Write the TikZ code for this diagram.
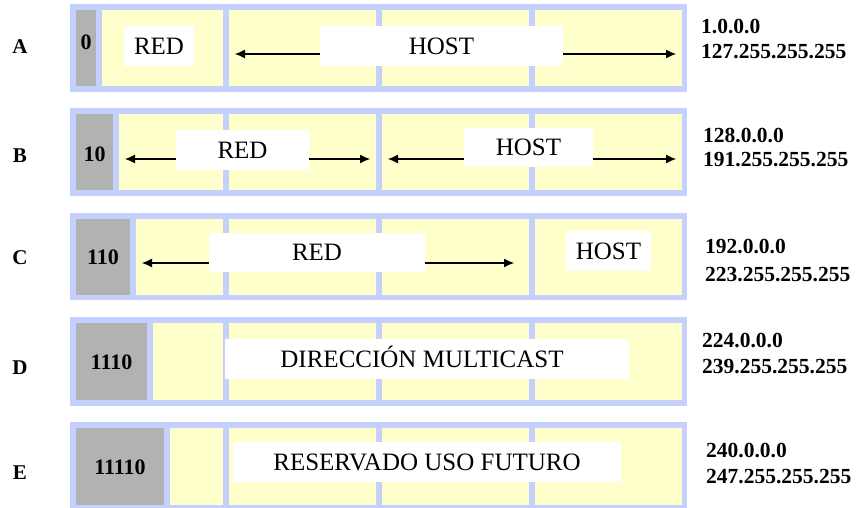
\documentclass[tikz,border=0pt]{standalone}
\usepackage{fontspec}
\setmainfont{Liberation Serif}
\usetikzlibrary{arrows.meta}
\definecolor{framec}{RGB}{198,208,255}
\definecolor{cellc}{RGB}{255,255,204}
\definecolor{bitc}{RGB}{178,178,178}
\begin{document}
\begin{tikzpicture}[x=1pt,y=-1pt,
 frame/.style={fill=framec},
 cell/.style={fill=cellc},
 bit/.style={fill=bitc},
 bittext/.style={font=\fontsize{22}{26}\selectfont\bfseries, inner sep=0pt, text height=15pt, text depth=0pt},
 wbox/.style={fill=white, inner sep=0pt, font=\fontsize{25}{30}\selectfont, text height=16.5pt, text depth=0pt},
 arr/.style={-{Latex[length=10pt,width=9pt]}, line width=1.1pt},
 cls/.style={font=\fontsize{21}{25}\selectfont\bfseries, inner sep=0pt, text height=14.3pt, text depth=0pt},
 ip/.style={font=\fontsize{21.5}{25}\selectfont\bfseries, inner sep=0pt, anchor=base west}]
\useasboundingbox (0,0) rectangle (860,508);
\fill[white] (0,0) rectangle (860,508);
% ---------- Row A ----------
\fill[frame] (70,4) rectangle (687,92);
\fill[bit] (76,10) rectangle (96,86);
\fill[cell] (102,10) rectangle (223,86);
\fill[cell] (229,10) rectangle (376,86);
\fill[cell] (382,10) rectangle (529,86);
\fill[cell] (535,10) rectangle (682,86);
\node[bittext] (bitA) at (86,42) {0};
\node[wbox, minimum width=70pt, minimum height=40pt] (redA) at (159,46) {RED};
\node[wbox, minimum width=243pt, minimum height=40pt] (hostA) at (441.5,46) {HOST};
\coordinate (tA1) at (235,54);
\coordinate (tA2) at (676,54);
\draw[arr] (hostA.west |- tA1) -- (tA1);
\draw[arr] (hostA.east |- tA2) -- (tA2);
\node[cls] (clsA) at (20,46) {A};
\node[ip] (ipA1) at (701,34) {1.0.0.0};
\node[ip] (ipA2) at (701,59) {127.255.255.255};
% ---------- Row B ----------
\fill[frame] (70,108.5) rectangle (687,196.5);
\fill[bit] (76,114.5) rectangle (113,190.5);
\fill[cell] (119,114.5) rectangle (223,190.5);
\fill[cell] (229,114.5) rectangle (376,190.5);
\fill[cell] (382,114.5) rectangle (529,190.5);
\fill[cell] (535,114.5) rectangle (682,190.5);
\node[bittext] (bitB) at (94.5,154.5) {10};
\node[wbox, minimum width=133pt, minimum height=40pt] (redB) at (242.5,150) {RED};
\node[wbox, minimum width=129pt, minimum height=39pt] (hostB) at (528.5,147.5) {HOST};
\coordinate (tB1) at (125,159);
\coordinate (tB2) at (370,159);
\coordinate (tB3) at (388,159);
\coordinate (tB4) at (676,159);
\draw[arr] (redB.west |- tB1) -- (tB1);
\draw[arr] (redB.east |- tB2) -- (tB2);
\draw[arr] (hostB.west |- tB3) -- (tB3);
\draw[arr] (hostB.east |- tB4) -- (tB4);
\node[cls] (clsB) at (20,155) {B};
\node[ip] (ipB1) at (703,143) {128.0.0.0};
\node[ip] (ipB2) at (703,167) {191.255.255.255};
% ---------- Row C ----------
\fill[frame] (70,213) rectangle (687,300);
\fill[bit] (76,219) rectangle (130,295);
\fill[cell] (136,219) rectangle (223,295);
\fill[cell] (229,219) rectangle (376,295);
\fill[cell] (382,219) rectangle (529,295);
\fill[cell] (535,219) rectangle (682,295);
\node[bittext] (bitC) at (103,257) {110};
\node[wbox, minimum width=216pt, minimum height=39pt] (redC) at (317,252.5) {RED};
\node[wbox, minimum width=85pt, minimum height=40pt] (hostC) at (608.5,251) {HOST};
\coordinate (tC1) at (142,263);
\coordinate (tC2) at (514,263);
\draw[arr] (redC.west |- tC1) -- (tC1);
\draw[arr] (redC.east |- tC2) -- (tC2);
\node[cls] (clsC) at (20,257) {C};
\node[ip] (ipC1) at (705,253) {192.0.0.0};
\node[ip] (ipC2) at (705,281) {223.255.255.255};
% ---------- Row D ----------
\fill[frame] (70,317) rectangle (687,406);
\fill[bit] (76,323) rectangle (147,400);
\fill[cell] (153,323) rectangle (223,400);
\fill[cell] (229,323) rectangle (376,400);
\fill[cell] (382,323) rectangle (529,400);
\fill[cell] (535,323) rectangle (682,400);
\node[bittext] (bitD) at (111.5,362) {1110};
\node[wbox, minimum width=404pt, minimum height=40pt] (boxD) at (427,359) {\hspace*{-10pt}DIRECCIÓN MULTICAST};
\node[cls] (clsD) at (20,367) {D};
\node[ip] (ipD1) at (702,347) {224.0.0.0};
\node[ip] (ipD2) at (702,373) {239.255.255.255};
% ---------- Row E ----------
\fill[frame] (70,421.5) rectangle (687,508);
\fill[bit] (76,427.5) rectangle (164,504.5);
\fill[cell] (170,427.5) rectangle (223,504.5);
\fill[cell] (229,427.5) rectangle (376,504.5);
\fill[cell] (382,427.5) rectangle (529,504.5);
\fill[cell] (535,427.5) rectangle (682,504.5);
\node[bittext] (bitE) at (120,466.5) {11110};
\node[wbox, minimum width=388pt, minimum height=40pt] (boxE) at (427,462) {RESERVADO USO FUTURO};
\node[cls] (clsE) at (20,472) {E};
\node[ip] (ipE1) at (706,457) {240.0.0.0};
\node[ip] (ipE2) at (706,483) {247.255.255.255};
\end{tikzpicture}
\end{document}
